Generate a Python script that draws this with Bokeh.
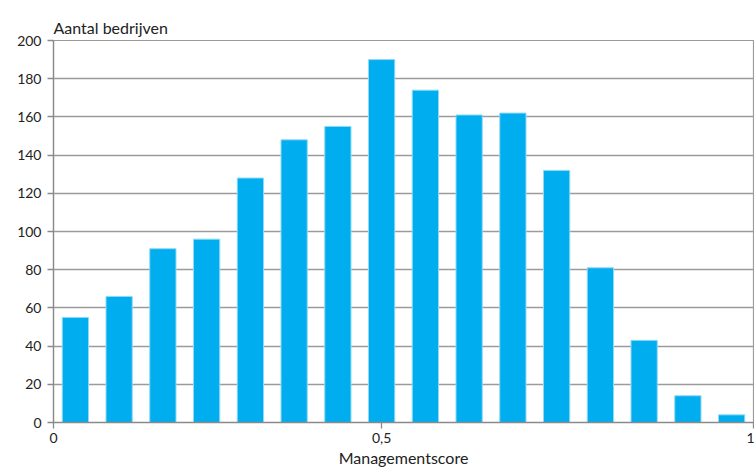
from bokeh.plotting import figure
from bokeh.models import Range1d, FixedTicker, Title
from bokeh.embed import file_html
from bokeh.resources import INLINE

# Data
counts = [55, 66, 91, 96, 128, 148, 155, 190, 174, 161, 162, 132, 81, 43, 14, 4]
y_ticks = [0, 20, 40, 60, 80, 100, 120, 140, 160, 180, 200]
x_tick_labels = ["0", "0,5", "1"]
y_title = "Aantal bedrijven"
x_title = "Managementscore"

n = len(counts)
centers = [i + 0.5 for i in range(n)]
x_tick_pos = [0, (n - 1) / 2, n]

FONT = "Lato"
GRID = "#9b9b9b"
TEXT = "#222222"

p = figure(width=754, height=471, output_backend="svg", toolbar_location=None,
           x_range=Range1d(0, n), y_range=Range1d(0, 200),
           min_border_left=53, min_border_right=1, min_border_top=40,
           min_border_bottom=49)

p.vbar(x=centers, top=counts, width=0.6, bottom=0,
       fill_color="#00adee", line_color="#8fd9f6", line_width=1)

p.outline_line_color = GRID
p.outline_line_width = 1.2

p.title = Title(text=y_title, align="left", text_font=FONT,
                text_font_size="16px", text_font_style="normal",
                text_color=TEXT, offset=0, standoff=8)

p.xgrid.visible = False
p.ygrid.ticker = FixedTicker(ticks=y_ticks)
p.ygrid.grid_line_color = GRID
p.ygrid.grid_line_width = 1.3

p.yaxis.ticker = FixedTicker(ticks=y_ticks)
p.xaxis.ticker = FixedTicker(ticks=x_tick_pos)
p.xaxis.major_label_overrides = {pos: lab for pos, lab in zip(x_tick_pos, x_tick_labels)}

for ax in (p.xaxis[0], p.yaxis[0]):
    ax.axis_line_color = "#8a8a8a"
    ax.axis_line_width = 1.3
    ax.major_tick_line_color = "#8a8a8a"
    ax.major_tick_line_width = 1.3
    ax.major_tick_out = 6
    ax.major_tick_in = 0
    ax.minor_tick_line_color = None
    ax.major_label_text_font = FONT
    ax.major_label_text_font_size = "14px"
    ax.major_label_text_color = TEXT

p.yaxis.major_label_standoff = 6
p.xaxis.major_label_standoff = 4
p.xaxis.axis_label = x_title
p.xaxis.axis_label_text_font = FONT
p.xaxis.axis_label_text_font_size = "16px"
p.xaxis.axis_label_text_font_style = "normal"
p.xaxis.axis_label_text_color = TEXT
p.xaxis.axis_label_standoff = 2

open("out.html", "w").write(file_html(p, INLINE))
